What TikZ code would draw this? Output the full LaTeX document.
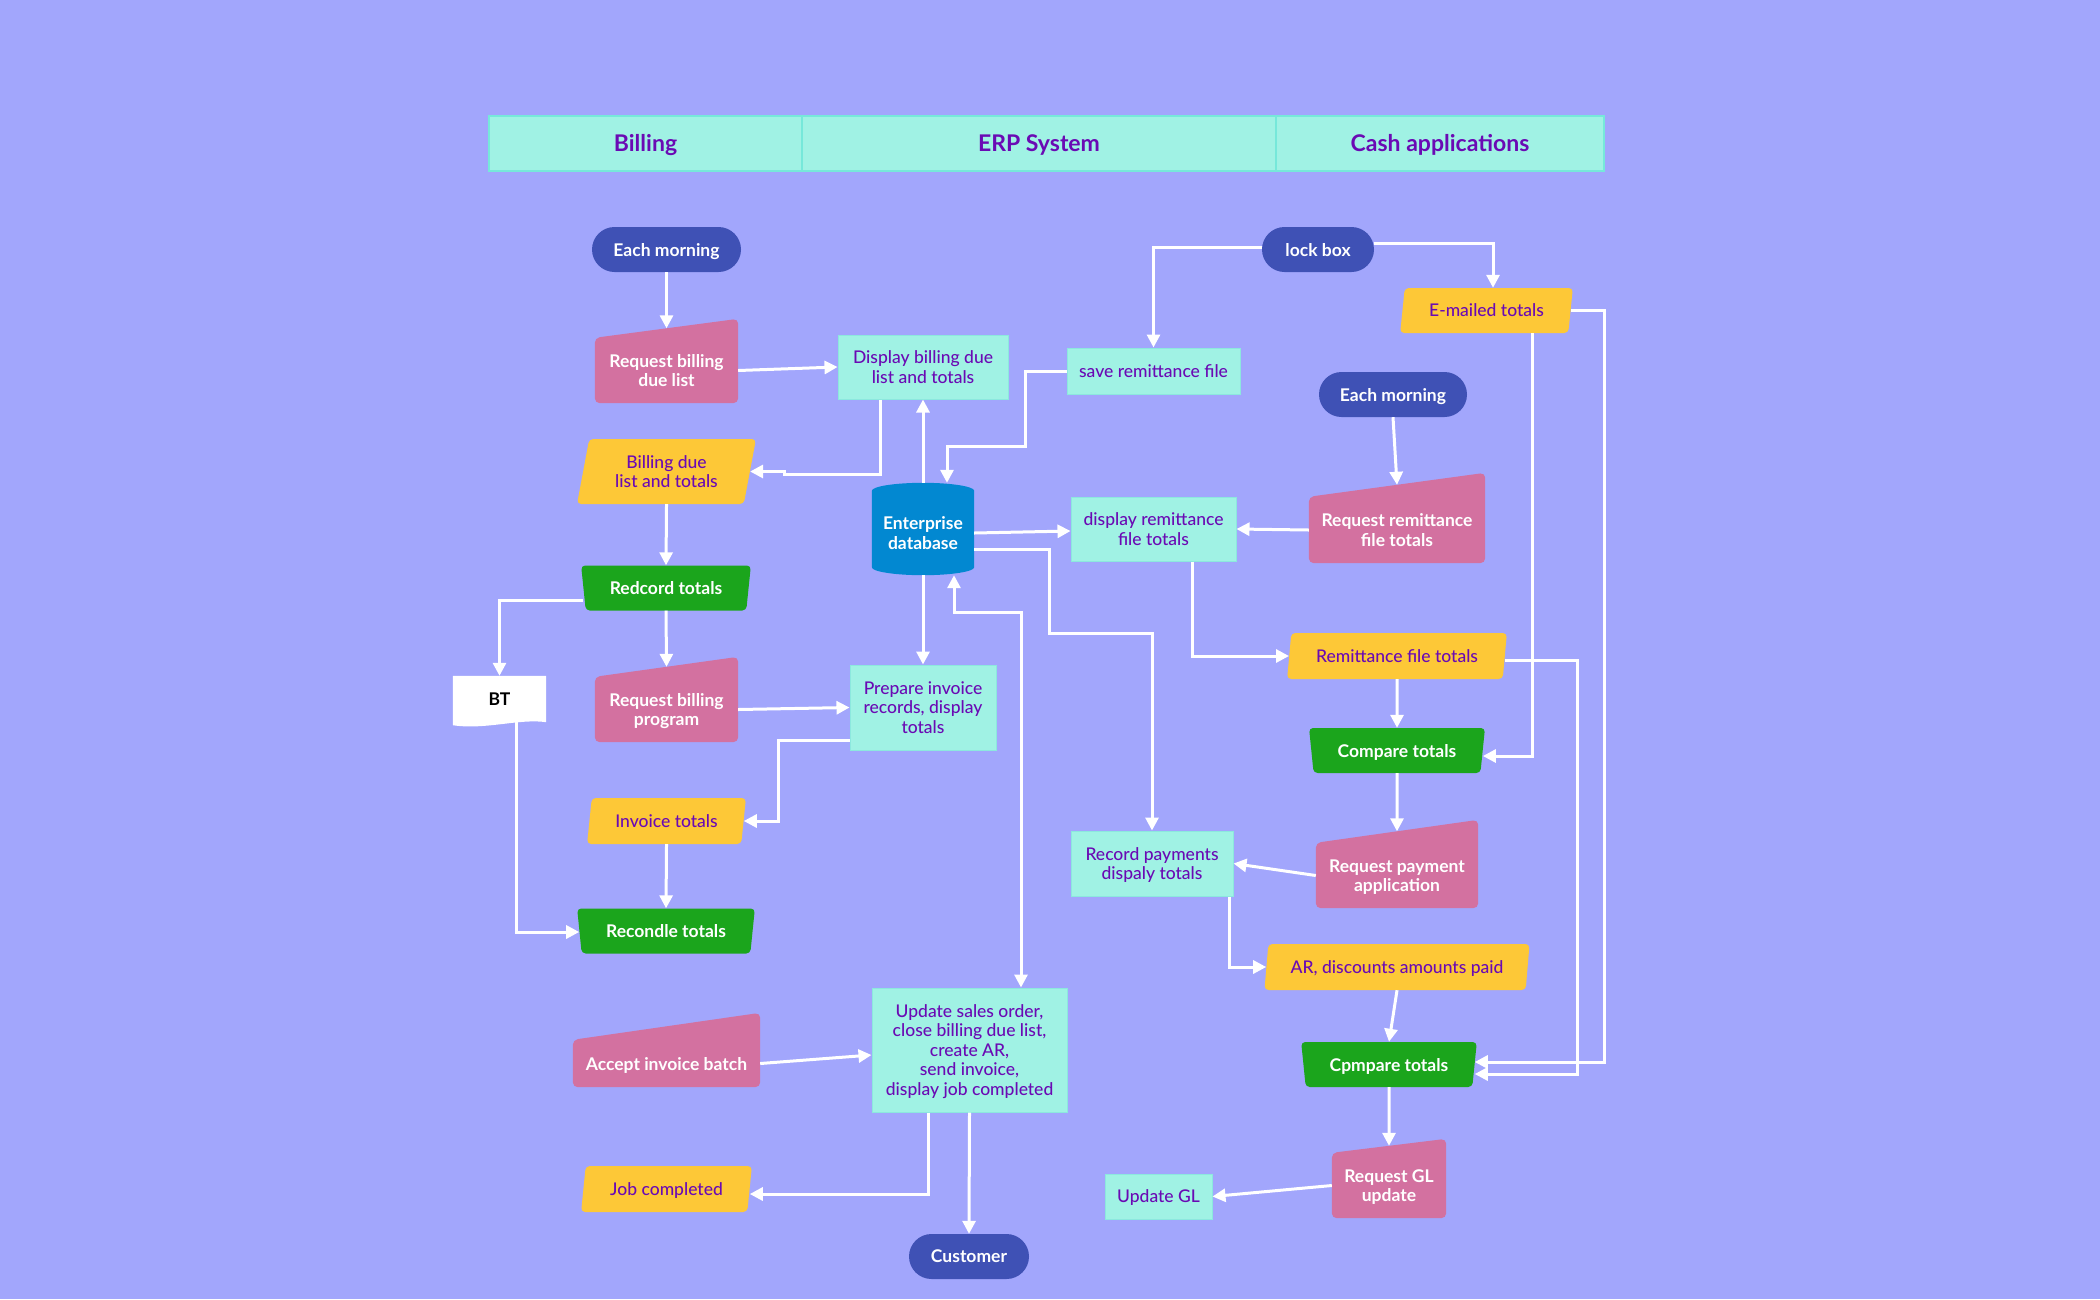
\documentclass[tikz,border=0pt]{standalone}
\usepackage{fontspec}
\setmainfont{Lato}[UprightFont=* Medium, BoldFont=* Bold]
\usetikzlibrary{shapes.geometric,arrows.meta,backgrounds,calc}
\definecolor{bgc}{RGB}{162,166,252}
\definecolor{mint}{RGB}{160,242,228}
\definecolor{mintb}{RGB}{140,232,222}
\definecolor{hdrb}{RGB}{118,232,218}
\definecolor{purp}{RGB}{106,10,180}
\definecolor{pillc}{RGB}{63,81,181}
\definecolor{pinkc}{RGB}{211,113,160}
\definecolor{yelc}{RGB}{253,200,55}
\definecolor{grnc}{RGB}{27,165,28}
\definecolor{dbc}{RGB}{2,136,209}
\begin{document}
\begin{tikzpicture}[x=1pt,y=-1pt,
 every node/.style={font=\fontsize{17.5}{19.5}\selectfont, align=center, inner sep=0pt, text depth=0pt},
 boldtxt/.style={font=\fontsize{17.5}{19.5}\selectfont\bfseries},
 hdr/.style={fill=mint, draw=hdrb, line width=2pt, text=purp, minimum height=55pt, font=\fontsize{23}{25}\selectfont\bfseries},
 pill/.style={fill=pillc, text=white, rounded corners=22.5pt, minimum height=45pt, boldtxt},
 proc/.style={fill=mint, draw=mintb, line width=1pt, text=purp},
 para/.style={trapezium, trapezium left angle=76, trapezium right angle=104, trapezium stretches=true, fill=yelc, text=purp, rounded corners=4pt, minimum height=46pt},
 gtrap/.style={trapezium, trapezium left angle=104, trapezium right angle=104, trapezium stretches=true, fill=grnc, text=white, rounded corners=4pt, minimum height=45pt, boldtxt},
 manual/.style={text=white, boldtxt},
 dbs/.style={text=white, boldtxt},
 docs/.style={text=black, boldtxt},
 arr/.style={draw=white, line width=3pt, -{Triangle[length=13pt,width=13pt]}},
 arrb/.style={draw=white, line width=3pt, {Triangle[length=13pt,width=13pt]}-{Triangle[length=13pt,width=13pt]}},
]
\useasboundingbox (0,0) rectangle (2100,1299);
\begin{scope}[on background layer]
\fill[bgc] (0,0) rectangle (2100,1299);
\end{scope}

% header
\node[hdr, minimum width=313pt] (hb) at (645.5,143) {Billing};
\node[hdr, minimum width=474pt] (he) at (1039,143) {ERP System};
\node[hdr, minimum width=328pt] (hc) at (1440,143) {Cash applications};

% Billing / ERP
\node[pill, minimum width=149pt] (em1) at (666.5,249.5) {Each morning};
\node[manual, minimum width=143pt, minimum height=65pt] (rbd) at (666.5,370.5) {Request billing\\due list};
\node[proc, minimum width=170pt, minimum height=64pt] (disp) at (923,367) {Display billing due\\list and totals};
\node[para, minimum width=179pt, minimum height=65pt] (bdl) at (666.5,471.5) {Billing due\\list and totals};
\node[minimum width=102pt, minimum height=92pt] (db) at (923,529) {};
\node[dbs] (dbt) at (923,533) {Enterprise\\database};
\node[gtrap, minimum width=170pt] (rec) at (666,588) {Redcord totals};
\node[docs, minimum width=93pt, minimum height=46pt] (bt) at (499.5,699) {BT};
\node[manual, minimum width=143pt, minimum height=65pt] (rbp) at (666.5,709.5) {Request billing\\program};
\node[proc, minimum width=146pt, minimum height=85pt] (prep) at (923,707.5) {Prepare invoice\\records, display\\totals};
\node[para, minimum width=159pt] (inv) at (666.5,821) {Invoice totals};
\node[gtrap, minimum width=178pt] (recon) at (666,931) {Recondle totals};
\node[manual, minimum width=187pt, minimum height=47pt] (acc) at (666.5,1063.5) {Accept invoice batch};
\node[proc, minimum width=195pt, minimum height=124pt] (upd) at (969.5,1050) {Update sales order,\\close billing due list,\\create AR,\\send invoice,\\display job completed};
\node[para, minimum width=171pt] (job) at (666.5,1189) {Job completed};
\node[pill, minimum width=120pt] (cust) at (969,1256.5) {Customer};

% Cash applications
\node[pill, minimum width=112pt] (lock) at (1318,249.5) {lock box};
\node[proc, minimum width=173pt, minimum height=46pt] (save) at (1153.5,371) {save remittance file};
\node[para, minimum width=173pt, minimum height=45pt] (email) at (1486.5,310.5) {E-mailed totals};
\node[pill, minimum width=148pt] (em2) at (1393,394.5) {Each morning};
\node[manual, minimum width=176pt, minimum height=66pt] (rrf) at (1397,530) {Request remittance\\file totals};
\node[proc, minimum width=165pt, minimum height=64pt] (dispr) at (1153.5,529) {display remittance\\file totals};
\node[para, minimum width=220pt] (rft) at (1397,656) {Remittance file totals};
\node[gtrap, minimum width=176pt] (cmp1) at (1397,750.5) {Compare totals};
\node[manual, minimum width=162pt, minimum height=65pt] (rpa) at (1397,875.5) {Request payment\\application};
\node[proc, minimum width=162pt, minimum height=65pt] (recp) at (1152,863.5) {Record payments\\dispaly totals};
\node[para, minimum width=266pt] (ar) at (1397,967) {AR, discounts amounts paid};
\node[gtrap, minimum width=176pt] (cmp2) at (1389,1064.5) {Cpmpare totals};
\node[manual, minimum width=114pt, minimum height=65pt] (rgl) at (1389,1185.5) {Request GL\\update};
\node[proc, minimum width=107pt, minimum height=45pt] (ugl) at (1158.5,1196.5) {Update GL};

% shape fills drawn behind texts
\begin{scope}[on background layer]
\foreach \n/\r in {rbd/19, rbp/20, acc/27, rrf/24, rpa/23, rgl/14} {
  \fill[pinkc, rounded corners=5pt] (\n.south west) -- (\n.south east) -- ($(\n.north east)+(0,-\r)$) -- (\n.north west) -- cycle;
}
\fill[dbc] ($(db.north west)+(0,8)$) .. controls ($(db.north west)+(0,3.6)$) and ($(db.north)+(-28,0)$) .. (db.north)
  .. controls ($(db.north)+(28,0)$) and ($(db.north east)+(0,3.6)$) .. ($(db.north east)+(0,8)$)
  -- ($(db.south east)+(0,-8)$) .. controls ($(db.south east)+(0,-3.6)$) and ($(db.south)+(28,0)$) .. (db.south)
  .. controls ($(db.south)+(-28,0)$) and ($(db.south west)+(0,-3.6)$) .. ($(db.south west)+(0,-8)$) -- cycle;
\fill[white] (bt.north west) -- (bt.north east) -- (bt.south east)
  .. controls ($(bt.south east)+(-26,-4)$) and ($(bt.south west)+(32,8)$) .. ($(bt.south west)+(0,3)$) -- cycle;
\end{scope}

% connectors
\draw[arr] (em1.south) -- ($(rbd.north)+(0,-9.5)$);
\draw[arr] (rbd.east) -- (disp.west);
\draw[arr] ([xshift=-43pt]disp.south) |- (784,474) |- (bdl.east);
\draw[arr] (db.north) -- (disp.south);
\draw[arr] (save.west) -| (1025,446) -| ([xshift=24pt]db.north);
\draw[arr] ([yshift=2pt]lock.west) -| (save.north);
\draw[arr] ([yshift=6pt]lock.east) -| ([xshift=6.5pt]email.north);
\draw[arr] (em2.south) -- ($(rrf.north)+(0,-12)$);
\draw[arr] (rrf.west) -- (dispr.east);
\draw[arr] ([yshift=-4pt]db.east) -- ([yshift=-2pt]dispr.west);
\draw[arr] ([yshift=-20pt]db.east) -| (1049,633) -| (recp.north);
\draw[arrb] ([xshift=31pt]db.south) |- (1021,612) -- ([xshift=51.5pt]upd.north);
\draw[arr] (db.south) -- (prep.north);
\draw[arr] ([xshift=38.5pt]dispr.south) |- (rft.west);
\draw[arr] (rbp.east) -- (prep.west);
\draw[arr] ([yshift=-32.5pt]prep.west) -| ([xshift=35pt]inv.east) -- (inv.east);
\draw[arr] (bdl.south) -- (rec.north);
\draw[arr] (rec.south) -- ($(rbp.north)+(0,-10)$);
\draw[arr] ([yshift=-12pt]rec.west) -| (bt.north);
\draw[arr] ([xshift=16.5pt]bt.south) |- ([yshift=-1pt]recon.west);
\draw[arr] (inv.south) -- (recon.north);
\draw[arr] (rft.south) -- (cmp1.north);
\draw[arr] ([xshift=45.5pt]email.south) |- ([yshift=-5.5pt]cmp1.east);
\draw[arr] (email.east) -| (1604,700) |- ([yshift=2.5pt]cmp2.east);
\draw[arr] ([yshift=-4pt]rft.east) -| (1577,900) |- ([yshift=-9.5pt]cmp2.east);
\draw[arr] (cmp1.south) -- ($(rpa.north)+(0,-11.5)$);
\draw[arr] (rpa.west) -- (recp.east);
\draw[arr] ([xshift=77pt]recp.south) |- (ar.west);
\draw[arr] (ar.south) -- (cmp2.north);
\draw[arr] (cmp2.south) -- ($(rgl.north)+(0,-7)$);
\draw[arr] (rgl.west) -- (ugl.east);
\draw[arr] (acc.east) -- ([yshift=-5pt]upd.west);
\draw[arr] ([xshift=-41.5pt]upd.south) |- ([yshift=-5pt]job.east);
\draw[arr] (upd.south) -- (cust.north);
\end{tikzpicture}
\end{document}
